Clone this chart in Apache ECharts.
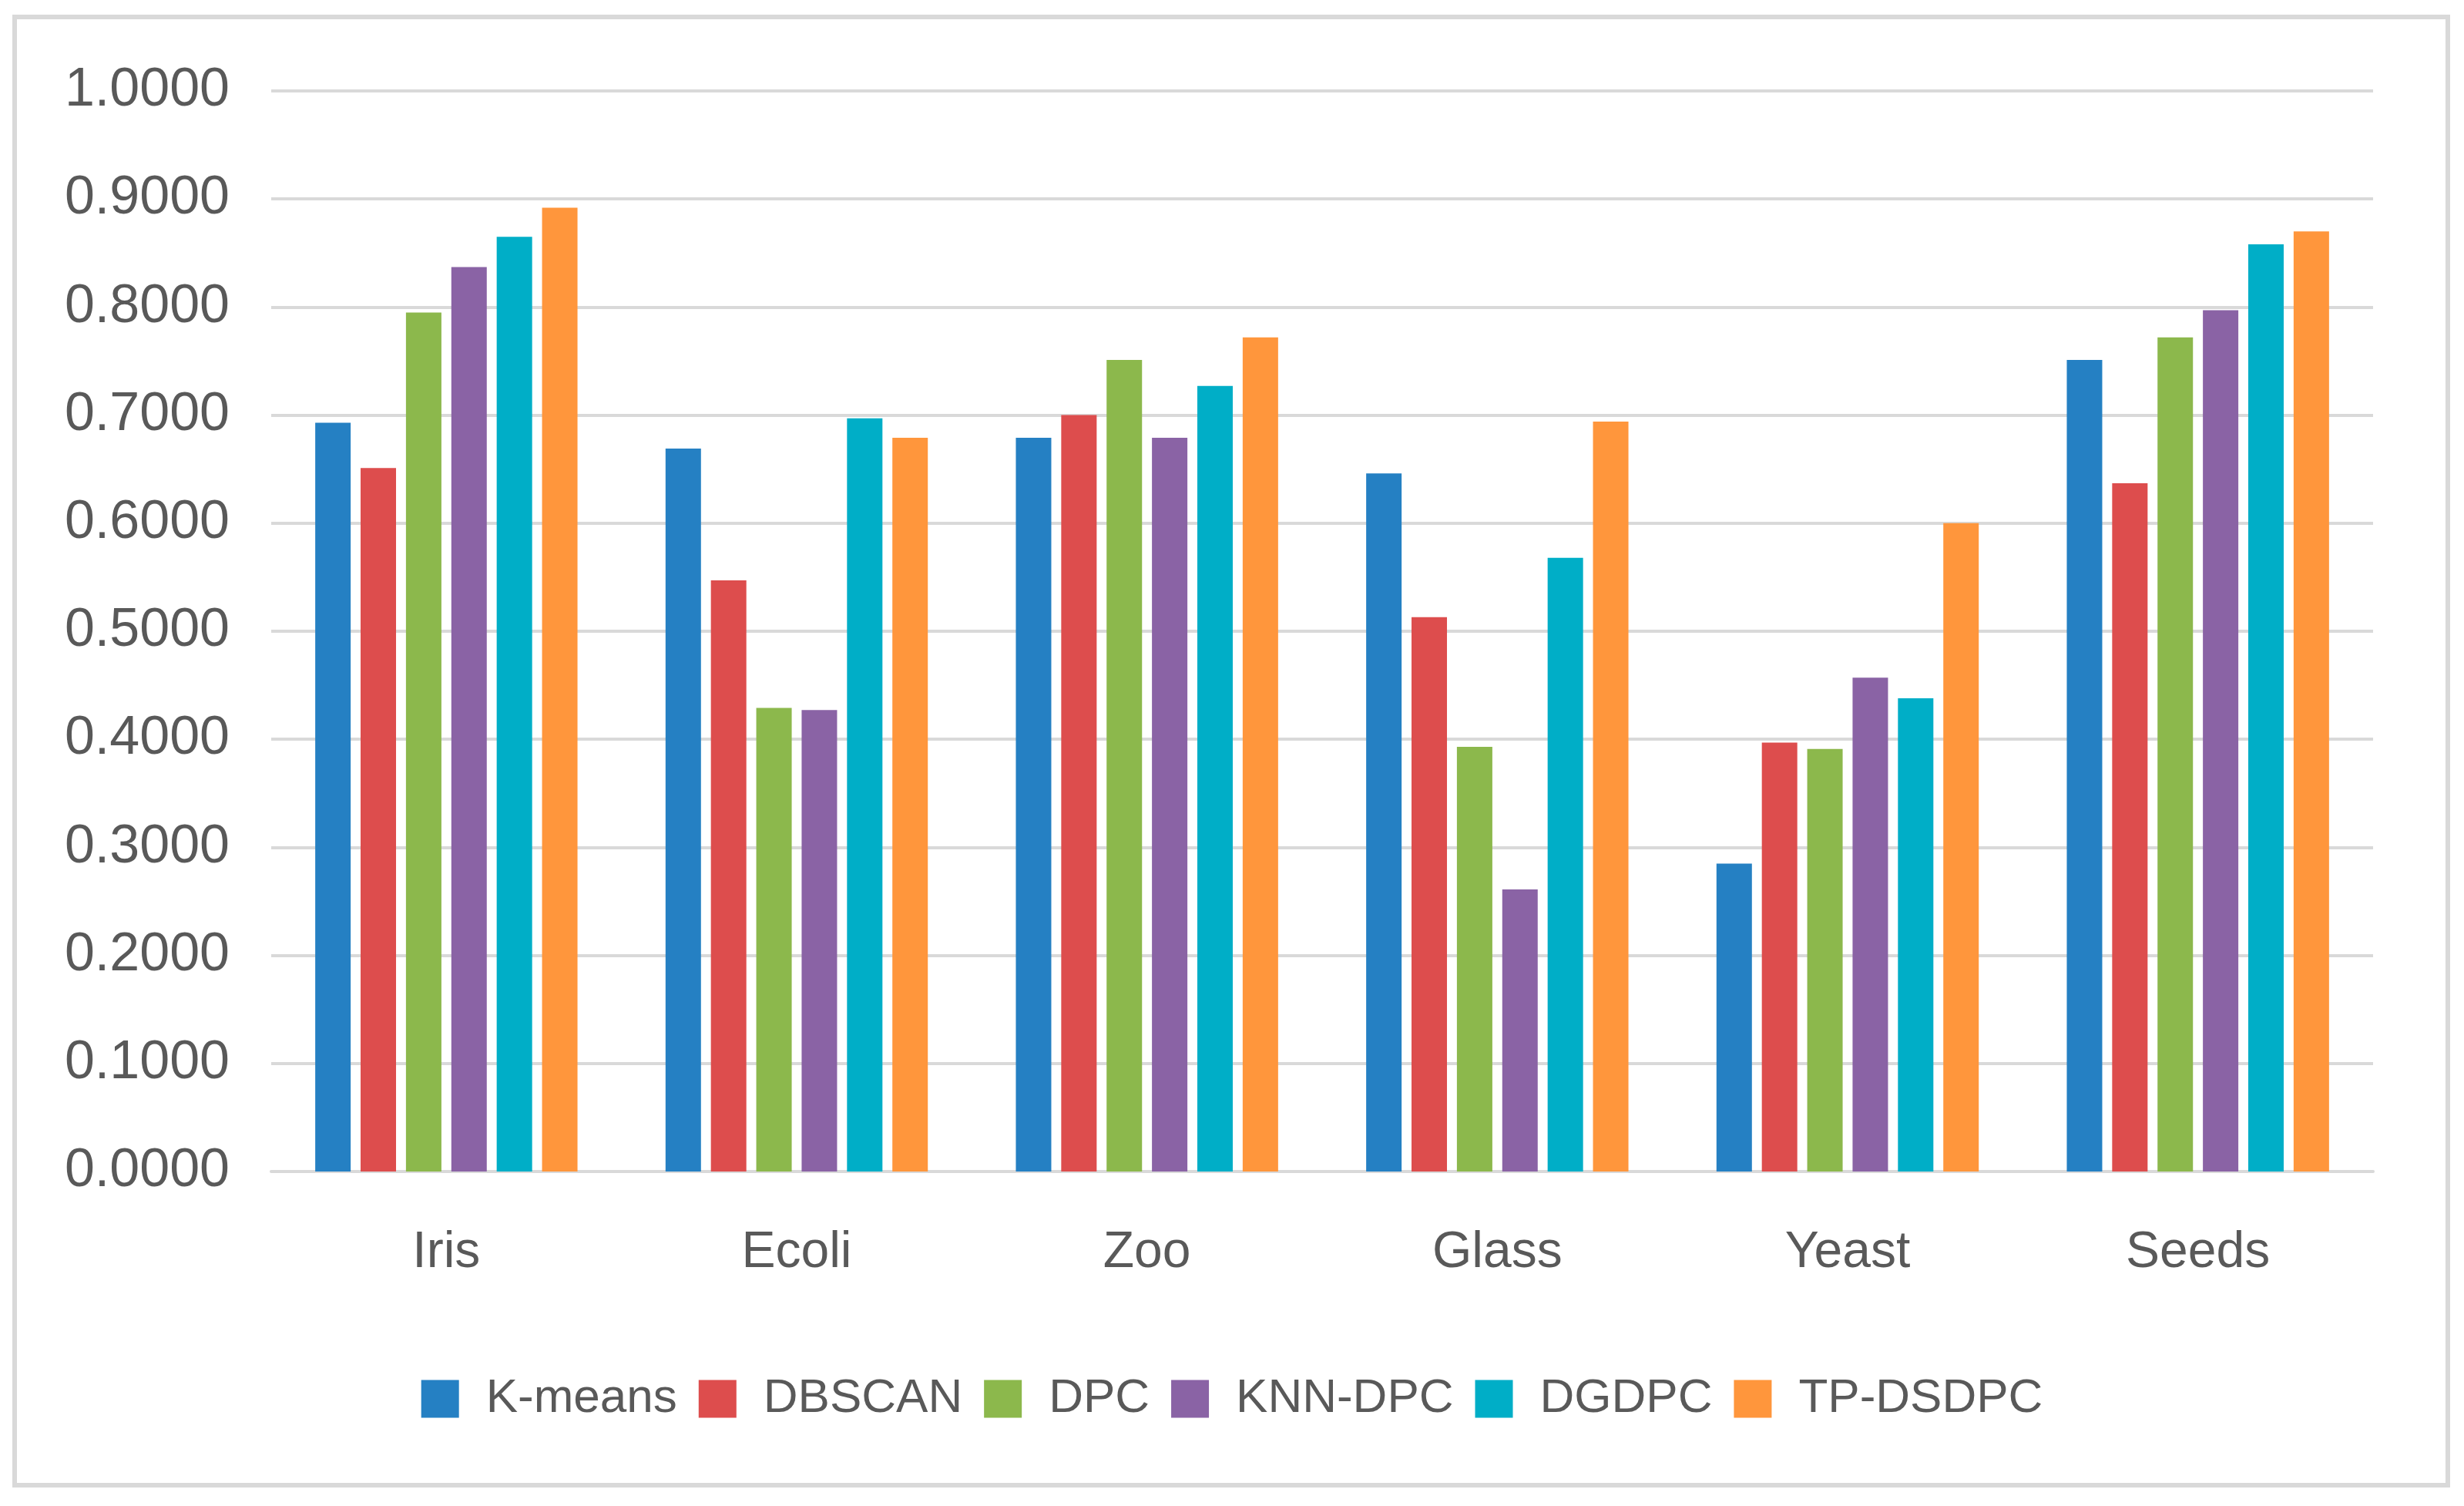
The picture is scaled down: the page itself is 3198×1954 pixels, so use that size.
<!DOCTYPE html>
<html>
<head>
<meta charset="utf-8">
<script src="https://cdn.jsdelivr.net/npm/echarts@6/dist/echarts.min.js"></script>
<style>
html,body{margin:0;padding:0;background:#fff;}
#chart{width:3198px;height:1954px;}
</style>
</head>
<body>
<div id="chart"></div>
<script>
const categories = ['Iris', 'Ecoli', 'Zoo', 'Glass', 'Yeast', 'Seeds'];
const seriesNames = ['K-means', 'DBSCAN', 'DPC', 'KNN-DPC', 'DGDPC', 'TP-DSDPC'];
const kmeans  = [0.693, 0.669, 0.679, 0.646, 0.285, 0.751];
const dbscan  = [0.651, 0.547, 0.700, 0.513, 0.397, 0.637];
const dpc     = [0.795, 0.429, 0.751, 0.393, 0.391, 0.772];
const knndpc  = [0.837, 0.427, 0.679, 0.261, 0.457, 0.797];
const dgdpc   = [0.865, 0.697, 0.727, 0.568, 0.438, 0.858];
const tpdsdpc = [0.892, 0.679, 0.772, 0.694, 0.600, 0.870];
const colors = ['#2580C3', '#DD4D4D', '#8CB84C', '#8A63A5', '#00AEC7', '#FF963C'];
const allData = [kmeans, dbscan, dpc, knndpc, dgdpc, tpdsdpc];

const chart = echarts.init(document.getElementById('chart'));
const textColor = '#595959';
const font = 'Liberation Sans';

chart.setOption({
  animation: false,
  backgroundColor: '#ffffff',
  color: colors,
  graphic: [{
    type: 'rect',
    shape: { x: 19, y: 22, width: 3158, height: 1905 },
    style: { fill: 'none', stroke: '#d9d9d9', lineWidth: 6 },
    z: -1
  }],
  grid: { left: 352, right: 118, top: 118, bottom: 434, containLabel: false },
  legend: {
    data: seriesNames,
    left: 'center',
    top: 1779,
    icon: 'rect',
    itemWidth: 49,
    itemHeight: 49,
    itemGap: 28,
    textStyle: { fontFamily: font, fontSize: 62, color: textColor, padding: [0, 0, 0, 30] }
  },
  xAxis: {
    type: 'category',
    data: categories,
    axisLine: { show: true, lineStyle: { color: '#d9d9d9', width: 4 } },
    axisTick: { show: false },
    axisLabel: { fontFamily: font, fontSize: 66, color: textColor, margin: 106, verticalAlign: 'middle' },
    splitLine: { show: false }
  },
  yAxis: {
    type: 'value',
    min: 0,
    max: 1,
    interval: 0.1,
    axisLine: { show: false },
    axisTick: { show: false },
    axisLabel: {
      fontFamily: font, fontSize: 70, color: textColor, margin: 54,
      formatter: v => v.toFixed(4)
    },
    splitLine: { show: true, lineStyle: { color: '#d9d9d9', width: 4 } }
  },
  series: seriesNames.map((name, i) => ({
    name: name,
    type: 'bar',
    data: allData[i],
    barWidth: 46,
    barGap: '28%',
    itemStyle: { color: colors[i] }
  }))
});
</script>
</body>
</html>
